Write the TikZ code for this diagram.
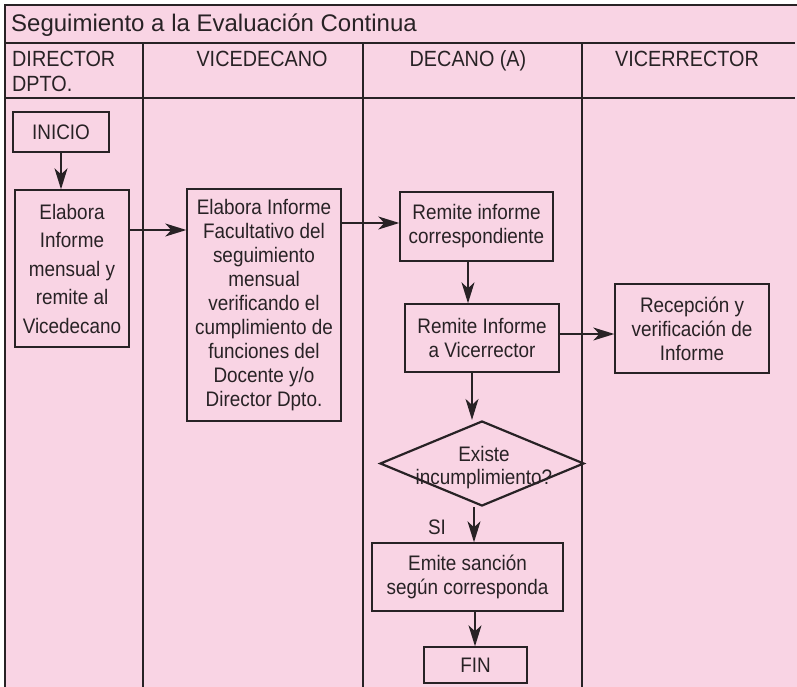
\documentclass[tikz,border=0pt]{standalone}
\usepackage{fontspec}
\setmainfont{Liberation Sans}
\newfontfamily\cond{Liberation Sans}[FakeStretch=0.9]
\usetikzlibrary{arrows.meta,shapes.geometric}
\definecolor{rosa}{RGB}{249,212,228}
\definecolor{linea}{RGB}{40,34,37}
\tikzset{
  caja/.style={draw=linea, line width=1.4pt, inner sep=0pt, align=center,
    font=\cond\fontsize{21}{24}\selectfont, text=linea},
  flecha/.style={draw=linea, line width=1.3pt, -{Stealth[length=21pt,width=13pt,inset=6pt]}},
  rejilla/.style={draw=linea, line width=1.5pt},
  cabecera/.style={font=\cond\fontsize{22}{25}\selectfont, text=linea, inner sep=0pt},
}
\begin{document}
\begin{tikzpicture}[x=1pt,y=-1pt]
\useasboundingbox (0,0) rectangle (797,687);
\fill[rosa] (5,5) rectangle (797,687);
% frame
\draw[draw=linea, line width=2.6pt] (797,5) -- (5,5) -- (5,687);
\draw[rejilla] (5,43) -- (795,43);
\draw[rejilla] (5,98) -- (795,98);
\draw[rejilla] (143,43) -- (143,687);
\draw[rejilla] (363,43) -- (363,687);
\draw[rejilla] (582,43) -- (582,687);
% title and headers
\node[anchor=base west, inner sep=0pt, text=linea, font=\fontsize{24}{28}\selectfont] (titulo) at (11,32) {Seguimiento a la Evaluación Continua};
\node[cabecera, anchor=base west, align=left] (h1) at (12,92) {DIRECTOR\\DPTO.};
\node[cabecera, anchor=base] (h2) at (262,67) {VICEDECANO};
\node[cabecera, anchor=base] (h3) at (468,67) {DECANO (A)};
\node[cabecera, anchor=base] (h4) at (687,67) {VICERRECTOR};
% boxes
\node[caja, minimum width=96pt, minimum height=40pt] (inicio) at (61,132) {INICIO};
\node[caja, minimum width=114pt, minimum height=157pt, font=\cond\fontsize{21}{28.5}\selectfont] (elab) at (72,268.5)
  {Elabora\\Informe\\mensual y\\remite al\\Vicedecano};
\node[caja, minimum width=154pt, minimum height=232pt] (fac) at (264,305)
  {Elabora Informe\\Facultativo del\\seguimiento\\mensual\\verificando el\\cumplimiento de\\funciones del\\Docente y/o\\Director Dpto.};
\node[caja, minimum width=153pt, minimum height=69pt] (rem1) at (476.5,226.5) {Remite informe\\correspondiente};
\node[caja, minimum width=154pt, minimum height=68pt] (rem2) at (482,338) {Remite Informe\\a Vicerrector};
\node[caja, minimum width=154pt, minimum height=89pt] (rec) at (692,328.5) {Recepción y\\verificación de\\Informe};
\node[diamond, draw=linea, line width=2.2pt, inner sep=0pt, minimum width=204pt, minimum height=85pt] (dia) at (482,463.5) {};
\node[align=center, inner sep=0pt, text=linea, font=\cond\fontsize{21}{23}\selectfont] (diat) at (484,468) {Existe\\incumplimiento?};
\node[caja, minimum width=191pt, minimum height=68pt] (emite) at (467.5,577) {Emite sanción\\según corresponda};
\node[caja, minimum width=103pt, minimum height=36pt] (fin) at (475.5,665) {FIN};
% connectors
\draw[flecha] (inicio.south) -- (inicio.south |- elab.north);
\draw[flecha] (elab.east |- 0,230) -- (fac.west |- 0,230);
\draw[flecha] (fac.east |- 0,223) -- (rem1.west |- 0,223);
\draw[flecha] (rem1.south -| 468,0) -- (rem2.north -| 468,0);
\draw[flecha] (rem2.east |- 0,334) -- (rec.west |- 0,334);
\draw[flecha] (rem2.south -| 472,0) -- (dia.north -| 472,0);
\draw[flecha] (dia.south -| 474,0) -- (emite.north -| 474,0);
\draw[flecha] (emite.south -| 475,0) -- (fin.north -| 475,0);
\node[anchor=base, inner sep=0pt, text=linea, font=\cond\fontsize{21}{24}\selectfont] (si) at (437,534) {SI};
\end{tikzpicture}
\end{document}
